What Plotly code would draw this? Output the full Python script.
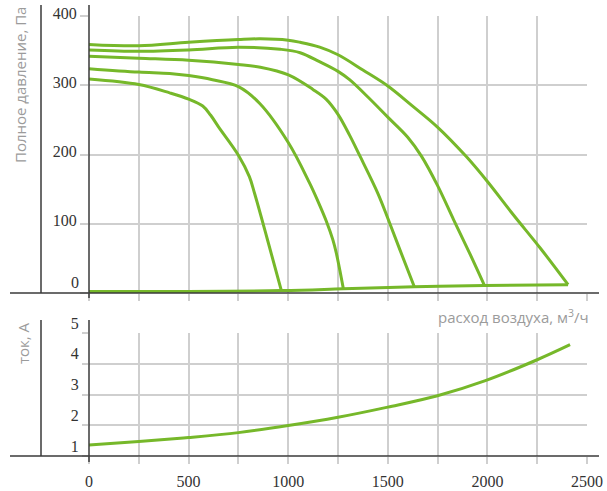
import plotly.graph_objects as go
from plotly.subplots import make_subplots

# --- data -------------------------------------------------------------
# pressure curves (airflow m3/h, total pressure Pa), one per fan speed
q1 = [0, 250, 405, 500, 571, 610, 650, 750, 805, 831, 895, 966]
p1 = [309, 301, 289, 280, 270, 257, 240, 199, 168, 144, 78, 3]

q2 = [0, 250, 405, 500, 620, 750, 856, 1001, 1107, 1150, 1191, 1224, 1242, 1277]
p2 = [324, 319, 317, 314, 308, 298, 274, 217, 159, 132, 104, 77, 57, 6]

q3 = [0, 250, 500, 750, 860, 1001, 1124, 1190, 1250, 1308, 1358, 1450, 1500, 1560, 1633]
p3 = [342, 339, 336, 330, 326, 315, 294, 280, 258, 228, 199, 144, 108, 63, 9]

q4 = [0, 250, 500, 750, 960, 1060, 1157, 1250, 1308, 1400, 1500, 1600, 1668, 1750, 1830, 1910, 1985]
p4 = [351, 349, 351, 355, 352, 347, 334, 320, 308, 283, 254, 225, 198, 155, 106, 58, 11]

q5 = [0, 250, 500, 750, 860, 1000, 1060, 1158, 1250, 1375, 1500, 1620, 1748, 1894, 2000, 2130, 2265, 2405]
p5 = [359, 357, 362, 366, 367, 365, 362, 355, 344, 322, 299, 271, 240, 197, 161, 113, 65, 12]

# free-delivery line joining the curve ends
q_base = [0, 966, 1277, 1633, 1985, 2405]
p_base = [2, 3.5, 6, 9, 11, 12]

# current draw (airflow m3/h, current A)
q_cur = [0, 250, 500, 750, 1000, 1250, 1500, 1745, 1990, 2250, 2415]
i_cur = [1.36, 1.47, 1.60, 1.76, 1.99, 2.26, 2.59, 2.95, 3.45, 4.13, 4.62]

x_ticks = [0, 250, 500, 750, 1000, 1250, 1500, 1750, 2000, 2250, 2500]
x_labels = ["0", "", "500", "", "1000", "", "1500", "", "2000", "", "2500"]
p_ticks = [0, 100, 200, 300, 400]
p_labels = ["", "100", "200", "300", "400"]
i_ticks = [1, 2, 3, 4, 5]
i_labels = ["1", "2", "3", "4", "5"]

# --- styling ----------------------------------------------------------
GREEN = "#76b82a"
GRID = "#cfcfcf"
AXIS = "#3a3a3a"
TITLE = "#9b9b9b"
TICKFONT = dict(family="Liberation Sans Narrow", size=16, color="#333333")

W, H = 607, 491
L, R, T, B = 89, 20, 16, 35
PW, PH = W - L - R, H - T - B


def px(x):
    return (x - L) / PW


def py(y):
    return (H - B - y) / PH


top_lo = py(293)
bot_hi = py(333)

fig = make_subplots(rows=2, cols=1, shared_xaxes=False)
for q, p in [(q1, p1), (q2, p2), (q3, p3), (q4, p4), (q5, p5), (q_base, p_base)]:
    fig.add_trace(go.Scatter(x=q, y=p, mode="lines",
                             line=dict(color=GREEN, width=3, shape="spline", smoothing=1.0),
                             hoverinfo="skip", showlegend=False), row=1, col=1)
fig.add_trace(go.Scatter(x=q_cur, y=i_cur, mode="lines",
                         line=dict(color=GREEN, width=3, shape="spline", smoothing=1.0),
                         hoverinfo="skip", showlegend=False), row=2, col=1)

xcommon = dict(range=[0, 2500], tickvals=x_ticks, showgrid=True, gridcolor=GRID,
               gridwidth=1.5, ticks="outside", ticklen=7, tickcolor=GRID, tickwidth=1.5,
               showline=False, zeroline=False, tickfont=TICKFONT, automargin=False)
ycommon = dict(showgrid=True, gridcolor=GRID, gridwidth=1.5, ticks="outside",
               tickcolor=GRID, tickwidth=1.5, zeroline=False, showline=False,
               tickfont=TICKFONT, automargin=False)
fig.update_layout(
    width=W, height=H, margin=dict(l=L, r=R, t=T, b=B),
    paper_bgcolor="white", plot_bgcolor="white",
    xaxis=dict(xcommon, ticktext=[""] * len(x_ticks), anchor="y"),
    xaxis2=dict(xcommon, ticktext=x_labels, anchor="y2", ticklabelstandoff=4),
    yaxis=dict(ycommon, domain=[top_lo, 1], range=[0, 400], tickvals=p_ticks,
               ticktext=p_labels, ticklen=8, ticklabelshift=-3),
    yaxis2=dict(ycommon, domain=[0, bot_hi], range=[1, 5], tickvals=i_ticks,
                ticktext=i_labels, ticklen=6, ticklabelshift=-10),
)

# axis frame lines
lines = [
    (px(10), top_lo, px(599), top_lo),
    (0, py(298), 0, py(5)),
    (px(41), top_lo, px(41), py(5)),
    (px(10), 0, px(599), 0),
    (0, py(462), 0, py(320)),
    (px(41), 0, px(41), py(320)),
]
for x0, y0, x1, y1 in lines:
    fig.add_shape(type="line", xref="paper", yref="paper", x0=x0, y0=y0, x1=x1, y1=y1,
                  line=dict(color=AXIS, width=1.5), layer="above")

TFONT = dict(family="Open Sans", size=15, color=TITLE)
fig.add_annotation(xref="paper", yref="paper", x=px(20), y=py(5), text="Полное давление, Па",
                   textangle=-90, xanchor="center", yanchor="top", showarrow=False, font=TFONT)
fig.add_annotation(xref="paper", yref="paper", x=px(23), y=py(320), text="ток, А",
                   textangle=-90, xanchor="center", yanchor="top", showarrow=False, font=TFONT)
fig.add_annotation(xref="paper", yref="paper", x=px(591), y=py(316),
                   text="расход воздуха, м<sup>3</sup>/ч",
                   xanchor="right", yanchor="middle", showarrow=False, font=TFONT)
# zero label sits just above the flow axis line
fig.add_annotation(xref="paper", yref="y", x=px(81), y=0, yshift=11, text="0",
                   xanchor="right", yanchor="middle", showarrow=False, font=TICKFONT)

fig.write_html("out.html")
